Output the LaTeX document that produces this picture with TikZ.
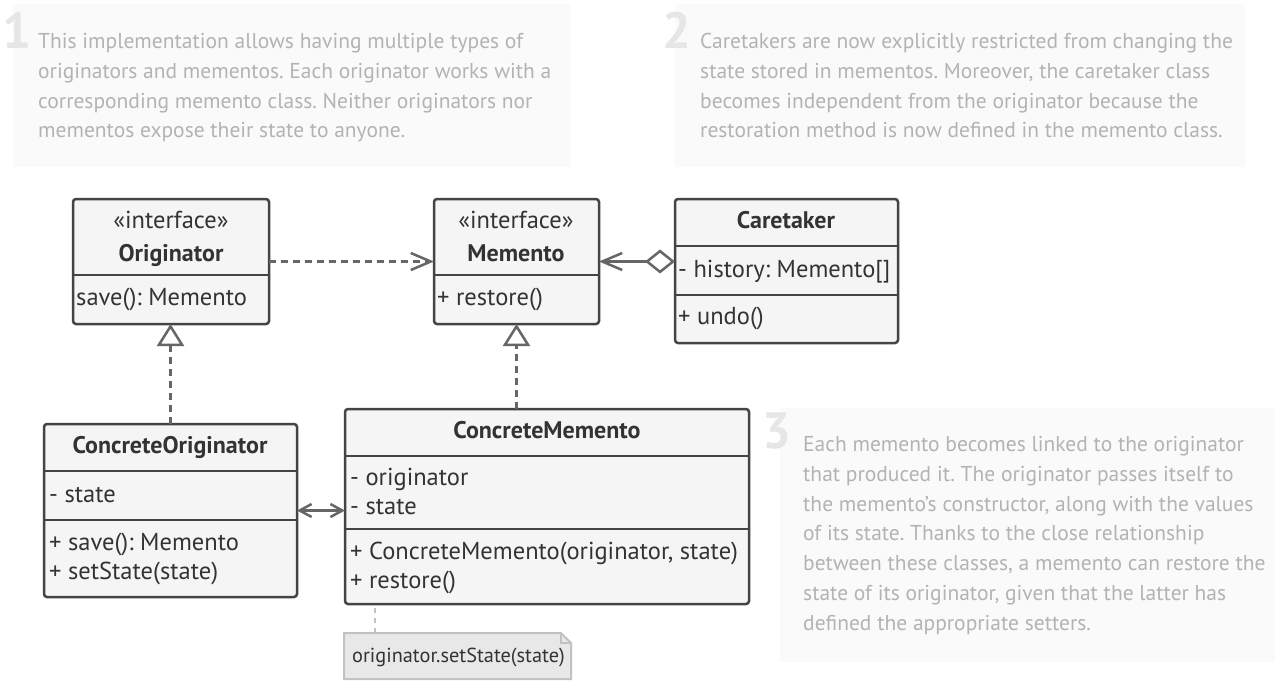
\documentclass[tikz,border=0pt]{standalone}
\usepackage{fontspec}
\setmainfont{PT Sans}
\usetikzlibrary{arrows.meta,scopes}
\definecolor{ink}{HTML}{333333}
\definecolor{edge}{HTML}{444444}
\definecolor{wire}{HTML}{666666}
\definecolor{boxbg}{HTML}{F5F5F5}
\definecolor{hintbg}{HTML}{FAFAFA}
\definecolor{hint}{HTML}{B3B3B3}
\definecolor{digit}{HTML}{E6E6E6}
\definecolor{notebg}{HTML}{E8E8E8}
\definecolor{noteline}{HTML}{C2C2C2}
\frenchspacing

\begin{document}
\begin{tikzpicture}[x=1pt,y=-1pt,
    barb/.tip={Straight Barb[length=20pt,width=17pt]},
    smallbarb/.tip={Straight Barb[length=12pt,width=13pt]},
    tri/.tip={Triangle[fill=white,length=22pt,width=27pt]},
    dia/.tip={Diamond[fill=white,length=30pt,width=24pt]},
    cls/.style={draw=edge,fill=boxbg,line width=2.5pt,rounded corners=3pt,outer sep=0pt,inner sep=0pt,anchor=north west},
    sep/.style={draw=edge,line width=2.5pt},
    head/.style={font=\fontsize{24}{28}\selectfont\bfseries,text=ink,inner sep=0pt,text height=18pt,text depth=6pt},
    stereo/.style={font=\fontsize{24.5}{28}\selectfont,text=ink,inner sep=0pt,text height=18pt,text depth=6pt},
    mbr/.style={stereo,anchor=west},
    link/.style={draw=wire,line width=2.5pt},
    dep/.style={link,dash pattern=on 7pt off 5pt},
    tie/.style={draw=noteline,line width=2pt,dash pattern=on 5pt off 5pt},
    hintbox/.style={fill=hintbg,inner sep=0pt,outer sep=0pt,anchor=north west},
    hintnum/.style={font=\fontsize{51}{51}\selectfont\bfseries,text=digit,inner sep=0pt,anchor=north east},
    hinttext/.style={font=\fontsize{21.5}{29.8}\selectfont,text=hint,align=left,inner sep=0pt,anchor=north west},
]
    \useasboundingbox[fill=white] (0,0) rectangle (1282,691);

    \node[hintbox,minimum width=557,minimum height=163] (h1) at (13,4) {};
    \node[hintnum] (n1) at (32,12) {1};
    \node[hinttext] (t1) at (38,33) {This implementation allows having multiple types of\\originators and mementos. Each originator works with a\\corresponding memento class. Neither originators nor\\mementos expose their state to anyone.};
    \node[hintbox,minimum width=570,minimum height=163] (h2) at (675,4) {};
    \node[hintnum] (n2) at (692,12) {2};
    \node[hinttext] (t2) at (700,33) {Caretakers are now explicitly restricted from changing the\\state stored in mementos. Moreover, the caretaker class\\becomes independent from the originator because the\\restoration method is now defined in the memento class.};
    \node[hintbox,minimum width=495,minimum height=254] (h3) at (780,408) {};
    \node[hintnum] (n3) at (792,413) {3};
    \node[hinttext] (t3) at (803,436) {Each memento becomes linked to the originator\\that produced it. The originator passes itself to\\the memento’s constructor, along with the values\\of its state. Thanks to the close relationship\\between these classes, a memento can restore the\\state of its originator, given that the latter has\\defined the appropriate setters.};

    \node[cls,minimum width=196,minimum height=125] (orig) at (73,199) {};
    \draw[sep] (orig.west |- 0,275) -- (orig.east |- 0,275);
    \node[stereo] (orig-s) at (171,222) {«interface»};
    \node[head] (orig-n) at (171,255) {Originator};
    \node[mbr] (orig-m) at (76,299) {save(): Memento};

    \node[cls,minimum width=165,minimum height=125] (mem) at (434,199) {};
    \draw[sep] (mem.west |- 0,275) -- (mem.east |- 0,275);
    \node[stereo] (mem-s) at (516,222) {«interface»};
    \node[head] (mem-n) at (516,255) {Memento};
    \node[mbr] (mem-m) at (437,299) {+ restore()};

    \node[cls,minimum width=223,minimum height=144] (care) at (675,199) {};
    \draw[sep] (care.west |- 0,246) -- (care.east |- 0,246);
    \draw[sep] (care.west |- 0,295) -- (care.east |- 0,295);
    \node[head] (care-n) at (786,222) {Caretaker};
    \node[mbr] (care-f) at (678,271) {- history: Memento[]};
    \node[mbr] (care-m) at (678,318) {+ undo()};

    \node[cls,minimum width=253,minimum height=173] (corig) at (44,424) {};
    \draw[sep] (corig.west |- 0,471) -- (corig.east |- 0,471);
    \draw[sep] (corig.west |- 0,520) -- (corig.east |- 0,520);
    \node[head] (corig-n) at (170,447) {ConcreteOriginator};
    \node[mbr] (corig-f) at (49,496) {- state};
    \node[mbr] (corig-m1) at (49,544) {+ save(): Memento};
    \node[mbr] (corig-m2) at (49,573) {+ setState(state)};

    \node[cls,minimum width=404,minimum height=195] (cmem) at (345,409) {};
    \draw[sep] (cmem.west |- 0,456) -- (cmem.east |- 0,456);
    \draw[sep] (cmem.west |- 0,529) -- (cmem.east |- 0,529);
    \node[head] (cmem-n) at (547,432) {ConcreteMemento};
    \node[mbr] (cmem-f1) at (350,479) {- originator};
    \node[mbr] (cmem-f2) at (350,508) {- state};
    \node[mbr] (cmem-m1) at (350,553) {+ ConcreteMemento(originator, state)};
    \node[mbr] (cmem-m2) at (350,582) {+ restore()};

    \node[minimum width=227,minimum height=46,inner sep=0pt,outer sep=0pt,anchor=north west] (note) at (344,633) {};
    \filldraw[fill=notebg,draw=noteline,line width=2pt] (note.north west) -- ([xshift=-10pt]note.north east) -- ([yshift=-10pt]note.north east) -- (note.south east) -- (note.south west) -- cycle;
    \draw[noteline,line width=2pt] ([xshift=-10pt]note.north east) |- ([yshift=-10pt]note.north east);
    \node[font=\fontsize{20.3}{24}\selectfont,text=ink,inner sep=0pt,anchor=west] (note-t) at (352,657) {originator.setState(state)};

    {[dep]
        \draw[-barb] (orig) -- (mem);
        \draw[-tri] (corig.north) -- (corig.north |- orig.south);
        \draw[-tri] (mem.south |- cmem.north) -- (mem.south);
    }
    {[link]
        \draw[barb-dia] (mem.east) -- (mem.east -| care.west);
        \draw[smallbarb-smallbarb] (corig.east) -- (corig.east -| cmem.west);
    }
    \draw[tie] ([xshift=31pt]note.north west) -- ([xshift=31pt]note.north west |- cmem.south);
\end{tikzpicture}
\end{document}
